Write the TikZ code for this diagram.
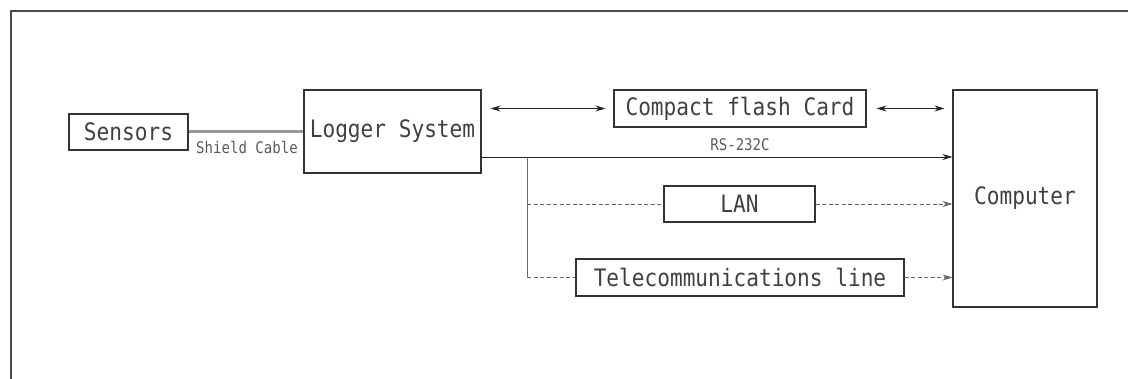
\documentclass[tikz,border=0pt]{standalone}
\usepackage{fontspec}
\newfontfamily\cadfont{DejaVu Sans Mono}[FakeStretch=0.88]
\usetikzlibrary{arrows.meta}
\tikzset{
  blk/.style={draw=black!80, line width=1.1pt, inner sep=0pt, text=black!75,
    font=\cadfont\fontsize{24}{26}\selectfont},
  lbl/.style={inner sep=0pt, text=black!65, font=\cadfont\fontsize{16}{18}\selectfont},
  link/.style={line width=0.9pt, draw=black!85},
  dlink/.style={line width=0.8pt, draw=black!60, dash pattern=on 4pt off 2.5pt},
  tip/.style={-{Stealth[length=10pt,width=6pt]}},
  dtip/.style={{Stealth[length=10pt,width=6pt]}-{Stealth[length=10pt,width=6pt]}}
}
\begin{document}
\begin{tikzpicture}[x=1pt,y=-1pt]
        \useasboundingbox (0,0) rectangle (1128,379);
        %% Frame
        \draw[line width=1.2pt, black!70] (1128,11) -- (11,11) -- (11,379);
        %% Blocks
        \node[blk, minimum width=119pt, minimum height=36pt] (sensors) at (128.5,132) {Sensors};
        \node[blk, minimum width=177pt, minimum height=83pt] (logger) at (392.5,131.5) {Logger System};
        \node[blk, minimum width=252pt, minimum height=37pt] (cfcard) at (740,108.5) {Compact flash Card};
        \node[blk, minimum width=151pt, minimum height=36pt] (lan) at (739.5,204) {LAN};
        \node[blk, minimum width=328pt, minimum height=37pt] (telecom) at (740,277.5) {Telecommunications line};
        \node[blk, minimum width=144pt, minimum height=217pt] (computer) at (1025,198.5) {Computer};
        %% Shield cable
        \draw[line width=3pt, black!40] (sensors.east) -- (sensors.east -| logger.west);
        \node[lbl] (shield) at (247,147) {Shield Cable};
        %% Compact flash card
        \draw[link, dtip] ([xshift=9pt]logger.east |- cfcard.west) -- ([xshift=-8pt]cfcard.west);
        \draw[link, dtip] ([xshift=10pt]cfcard.east) -- ([xshift=-8pt]cfcard.east -| computer.west);
        %% RS-232C and branch
        \coordinate (tap) at (527,157);
        \draw[link, tip] (logger.east |- tap) -- (tap -| computer.west);
        \node[lbl] (rs) at (740,145) {RS-232C};
        \draw[line width=0.8pt, black!60] (tap) -- (tap |- telecom.west);
        \draw[dlink] (tap |- lan.west) -- (lan.west);
        \draw[dlink] (tap |- telecom.west) -- (telecom.west);
        \draw[dlink, tip] (lan.east) -- (lan.east -| computer.west);
        \draw[dlink, tip] (telecom.east) -- (telecom.east -| computer.west);
    \end{tikzpicture}
\end{document}
